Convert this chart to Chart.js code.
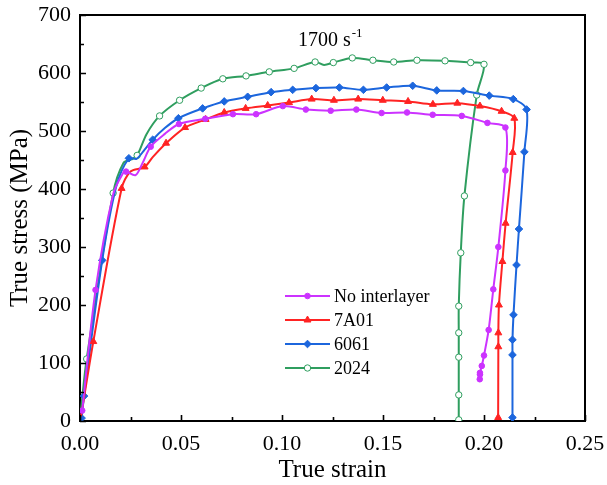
<!DOCTYPE html>
<html>
<head>
<meta charset="utf-8">
<script src="https://cdn.jsdelivr.net/npm/chart.js@4"></script>
<style>
  html,body{margin:0;padding:0;background:#fff;}
  canvas{display:block;}
</style>
</head>
<body>
<canvas id="c" width="607" height="485"></canvas>
<script>
/* true stress-strain curves at 1700 s-1 */
const seriesNames = ['No interlayer', '7A01', '6061', '2024'];

const noneStrain = [0.0011, 0.0077, 0.0165, 0.0214, 0.0228, 0.0275, 0.031, 0.035, 0.042, 0.049, 0.062, 0.0757, 0.0872, 0.1004, 0.1118, 0.1241, 0.1368, 0.1493, 0.1619, 0.1746, 0.189, 0.2017, 0.2106, 0.2106, 0.2071, 0.2046, 0.2023, 0.2, 0.1989, 0.198, 0.198, 0.1979];
const noneStress = [18, 226, 392, 428, 430, 424, 445, 473, 495, 512, 521, 529, 529, 543, 537, 535, 537, 531, 532, 528, 526, 514, 506, 432, 300, 227, 157, 113, 95, 83, 80, 72];
const noneBare   = [2, 3, 5, 6, 8];   // curve points with no marker drawn

const a7Strain = [0.0005, 0.0066, 0.0206, 0.025, 0.032, 0.036, 0.0426, 0.052, 0.0622, 0.0714, 0.082, 0.0929, 0.1035, 0.1147, 0.1257, 0.1377, 0.1499, 0.1624, 0.1747, 0.1868, 0.198, 0.2087, 0.215, 0.2142, 0.2107, 0.2091, 0.2074, 0.2071, 0.2071, 0.207];
const a7Stress = [8, 137, 401, 430, 438, 455, 479, 506, 520, 532, 539, 544, 549, 555, 553, 555, 553, 551, 546, 548, 543, 534, 522, 463, 341, 275, 200, 152, 128, 6];
const a7Bare   = [0, 3, 5];

const a6Strain = [0.0008, 0.002, 0.011, 0.018, 0.0242, 0.028, 0.032, 0.036, 0.042, 0.0487, 0.0607, 0.0714, 0.083, 0.0946, 0.1053, 0.1168, 0.1284, 0.1403, 0.1518, 0.1647, 0.1766, 0.1898, 0.2026, 0.2145, 0.2211, 0.22, 0.2173, 0.2161, 0.2146, 0.2141, 0.2141, 0.2141];
const a6Stress = [5, 43, 277, 405, 453, 452, 468, 485, 505, 522, 539, 551, 559, 567, 571, 574, 575, 571, 575, 578, 570, 569, 561, 555, 537, 464, 331, 269, 183, 140, 114, 6];
const a6Bare   = [3, 5, 6, 8];

const a2Strain = [0.0005, 0.0033, 0.0164, 0.0215, 0.0255, 0.0283, 0.033, 0.0394, 0.0493, 0.06, 0.0707, 0.0822, 0.0937, 0.106, 0.1164, 0.1208, 0.1254, 0.1348, 0.145, 0.1553, 0.1668, 0.1807, 0.1934, 0.2, 0.1964, 0.1903, 0.1885, 0.1875, 0.1875, 0.1875, 0.1875, 0.1875];
const a2Stress = [20, 107, 393, 445, 451, 458, 495, 526, 553, 574, 590, 595, 602, 608, 619, 614, 618, 626, 622, 619, 622, 621, 618, 615, 562, 388, 290, 198, 152, 110, 45, 2];
const a2Bare   = [0, 3, 4, 6, 15];

const xTicks = [0, 0.05, 0.10, 0.15, 0.20, 0.25];
const yTicks = [0, 100, 200, 300, 400, 500, 600, 700];

const SERIF = '"Liberation Serif", "Times New Roman", serif';

function pts(xs, ys){ return xs.map((x,i)=>({x:x, y:ys[i]})); }

function makeSet(label, xs, ys, bare, color, style, r, fill){
  return {
    label: label,
    data: pts(xs, ys),
    showLine: true,
    borderColor: color,
    borderWidth: 2,
    tension: 0.3,
    pointStyle: style,
    pointRadius: ctx => bare.includes(ctx.dataIndex) ? 0 : r,
    pointBackgroundColor: fill,
    pointBorderColor: color,
    pointBorderWidth: 1,
    _r: r
  };
}

const datasets = [
  makeSet(seriesNames[0], noneStrain, noneStress, noneBare, '#cc33ff', 'circle', 2.8, '#cc33ff'),
  makeSet(seriesNames[1], a7Strain, a7Stress, a7Bare, '#ff2323', 'triangle', 4, '#ff2323'),
  makeSet(seriesNames[2], a6Strain, a6Stress, a6Bare, '#1c66dd', 'rectRot', 3.8, '#1c66dd'),
  makeSet(seriesNames[3], a2Strain, a2Stress, a2Bare, '#2f9e5f', 'circle', 3.2, '#ffffff')
];

// drop the label overflow padding so the plot box lands where the layout padding says
function noPad(s){ s.paddingLeft = 0; s.paddingRight = 0; s.paddingTop = 0; s.paddingBottom = 0; }

/* inward tick marks, top/right frame, legend and annotation */
const decor = {
  id: 'decor',
  afterDraw(chart){
    const ctx = chart.ctx, a = chart.chartArea;
    const xs = chart.scales.x, ys = chart.scales.y;
    ctx.save();
    ctx.strokeStyle = '#000';
    ctx.lineWidth = 2;
    ctx.beginPath();
    ctx.moveTo(a.left, a.top); ctx.lineTo(a.right, a.top); ctx.lineTo(a.right, a.bottom);
    ctx.stroke();
    ctx.lineWidth = 1.6;
    ctx.beginPath();
    for(let v=0; v<=0.2501; v+=0.025){
      const px = Math.round(xs.getPixelForValue(v)) + 0.5;
      const len = (Math.round(v*1000) % 50 === 0) ? 6 : 4;
      ctx.moveTo(px, a.bottom); ctx.lineTo(px, a.bottom - len);
    }
    for(let v=0; v<=700; v+=50){
      const py = Math.round(ys.getPixelForValue(v)) + 0.5;
      const len = (v % 100 === 0) ? 6 : 4;
      ctx.moveTo(a.left, py); ctx.lineTo(a.left + len, py);
    }
    ctx.stroke();

    // legend
    const lx0 = 285, lx1 = 330, rows = [296, 320, 344, 368];
    ctx.font = '18px ' + SERIF;
    ctx.textBaseline = 'middle';
    chart.data.datasets.forEach((ds, i)=>{
      const y = rows[i];
      ctx.strokeStyle = ds.borderColor;
      ctx.lineWidth = 2;
      ctx.beginPath(); ctx.moveTo(lx0, y); ctx.lineTo(lx1, y); ctx.stroke();
      ctx.fillStyle = ds.pointBackgroundColor;
      ctx.strokeStyle = ds.pointBorderColor;
      ctx.lineWidth = 1;
      Chart.helpers.drawPoint(ctx, {pointStyle: ds.pointStyle, radius: ds._r, rotation: 0, borderWidth: 1}, (lx0+lx1)/2, y);
      ctx.fillStyle = '#000';
      ctx.textAlign = 'left';
      ctx.fillText(ds.label, 334, y + 1);
    });

    // strain rate label
    ctx.fillStyle = '#000';
    ctx.textBaseline = 'alphabetic';
    ctx.textAlign = 'left';
    ctx.font = '20px ' + SERIF;
    ctx.fillText('1700 s', 298, 46);
    const w = ctx.measureText('1700 s').width;
    ctx.font = '13px ' + SERIF;
    ctx.fillText('-1', 298 + w + 1, 37);
    ctx.restore();
  }
};

new Chart(document.getElementById('c'), {
  type: 'scatter',
  data: { datasets: datasets },
  options: {
    responsive: false,
    animation: false,
    devicePixelRatio: 1,
    layout: { padding: { top: 15, right: 22, left: 0, bottom: 0 } },
    plugins: { legend: { display: false }, tooltip: { enabled: false } },
    scales: {
      x: {
        type: 'linear', min: 0, max: 0.25,
        afterBuildTicks: s => { s.ticks = xTicks.map(v=>({value:v})); },
        afterFit: s => { s.height = 64; noPad(s); },
        grid: { display: false, drawTicks: false },
        border: { display: true, color: '#000', width: 2 },
        ticks: { color: '#000', font: { family: SERIF, size: 22 }, padding: 10, maxRotation: 0,
                 callback: v => Number(v).toFixed(2) },
        title: { display: true, text: 'True strain', color: '#000', font: { family: SERIF, size: 25 }, padding: { top: 0, bottom: 0 } }
      },
      y: {
        type: 'linear', min: 0, max: 700,
        afterBuildTicks: s => { s.ticks = yTicks.map(v=>({value:v})); },
        afterFit: s => { s.width = 80; noPad(s); },
        grid: { display: false, drawTicks: false },
        border: { display: true, color: '#000', width: 2 },
        ticks: { color: '#000', font: { family: SERIF, size: 22 }, padding: 9 },
        title: { display: true, text: 'True stress (MPa)', color: '#000', font: { family: SERIF, size: 25 }, padding: { top: 5, bottom: 0 } }
      }
    }
  },
  plugins: [decor]
});
</script>
</body>
</html>
